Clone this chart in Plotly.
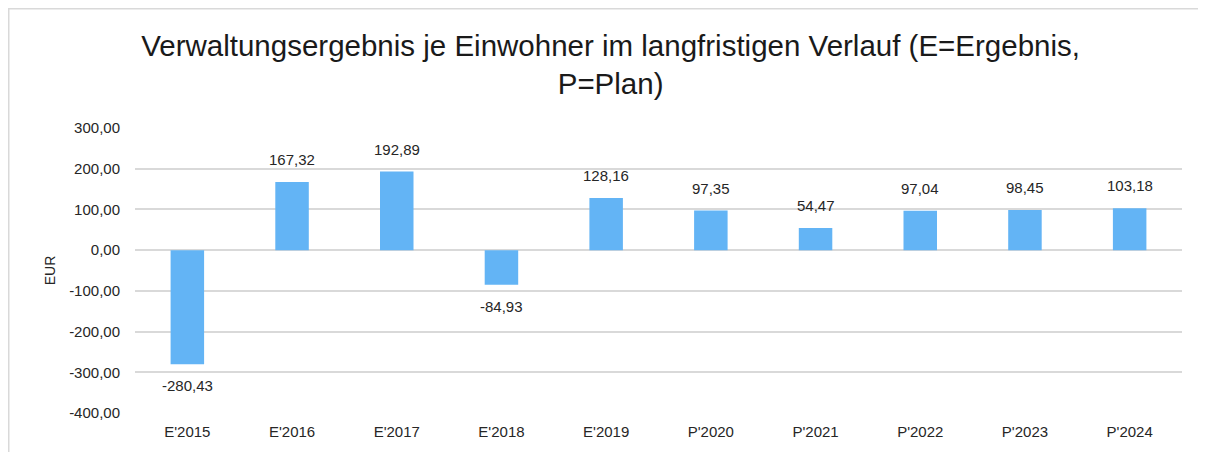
import plotly.graph_objects as go

categories = ["E'2015", "E'2016", "E'2017", "E'2018", "E'2019", "P'2020", "P'2021", "P'2022", "P'2023", "P'2024"]
values = [-280.43, 167.32, 192.89, -84.93, 128.16, 97.35, 54.47, 97.04, 98.45, 103.18]
tick_vals = [300, 200, 100, 0, -100, -200, -300, -400]
tick_text = ["300,00", "200,00", "100,00", "0,00", "-100,00", "-200,00", "-300,00", "-400,00"]
labels = [f"{v:.2f}".replace(".", ",") for v in values]

# page has an 8px body margin, so figure coords = page coords - 8
W, H = 1198, 444
ml, mr, mt, mb = 127, 24, 120, 39
pw, ph = W - ml - mr, H - mt - mb

FONT = "Liberation Sans, Arial"
TXT = "#262626"

fig = go.Figure()
fig.add_trace(go.Bar(
    x=categories, y=values, marker=dict(color="#63B4F5", line=dict(width=0)),
    hoverinfo="x+y",
))

for c, v, t in zip(categories, values, labels):
    fig.add_annotation(
        x=c, y=v, text=t, showarrow=False,
        yanchor="bottom" if v >= 0 else "top",
        yshift=12 if v >= 0 else -11,
        font=dict(family=FONT, size=15, color=TXT),
    )

def px_x(p):
    return (p - ml) / pw

def px_y(p):
    return 1 - (p - mt) / ph

fig.update_layout(
    width=W, height=H,
    margin=dict(l=ml, r=mr, t=mt, b=mb),
    paper_bgcolor="white", plot_bgcolor="white",
    font=dict(family=FONT, color=TXT),
    title=dict(text="Verwaltungsergebnis je Einwohner im langfristigen Verlauf (E=Ergebnis,<br>P=Plan)",
               x=0.503, xanchor="center", y=0.893, yanchor="top",
               font=dict(size=29.5, color="#1a1a1a", family=FONT)),
    bargap=0.68,
    showlegend=False,
    shapes=[dict(type="rect", xref="paper", yref="paper",
                 x0=px_x(0.75), x1=px_x(1215), y0=px_y(470), y1=px_y(0.75),
                 line=dict(color="#d9d9d9", width=1.5), fillcolor="rgba(0,0,0,0)", layer="below")],
)
fig.update_xaxes(showgrid=False, zeroline=False, showline=False, ticks="",
                 ticklabelstandoff=8,
                 tickfont=dict(size=15, color=TXT))
fig.update_yaxes(range=[-400, 300], tickvals=tick_vals, ticktext=tick_text,
                 showgrid=True, gridcolor="#d9d9d9", gridwidth=1.5,
                 zeroline=True, zerolinecolor="#d9d9d9", zerolinewidth=1.5,
                 showline=False, ticks="", ticklabelstandoff=14,
                 tickfont=dict(size=15, color=TXT),
                 title=dict(text="EUR", font=dict(size=14, color=TXT), standoff=10))

fig.write_html("out.html")
